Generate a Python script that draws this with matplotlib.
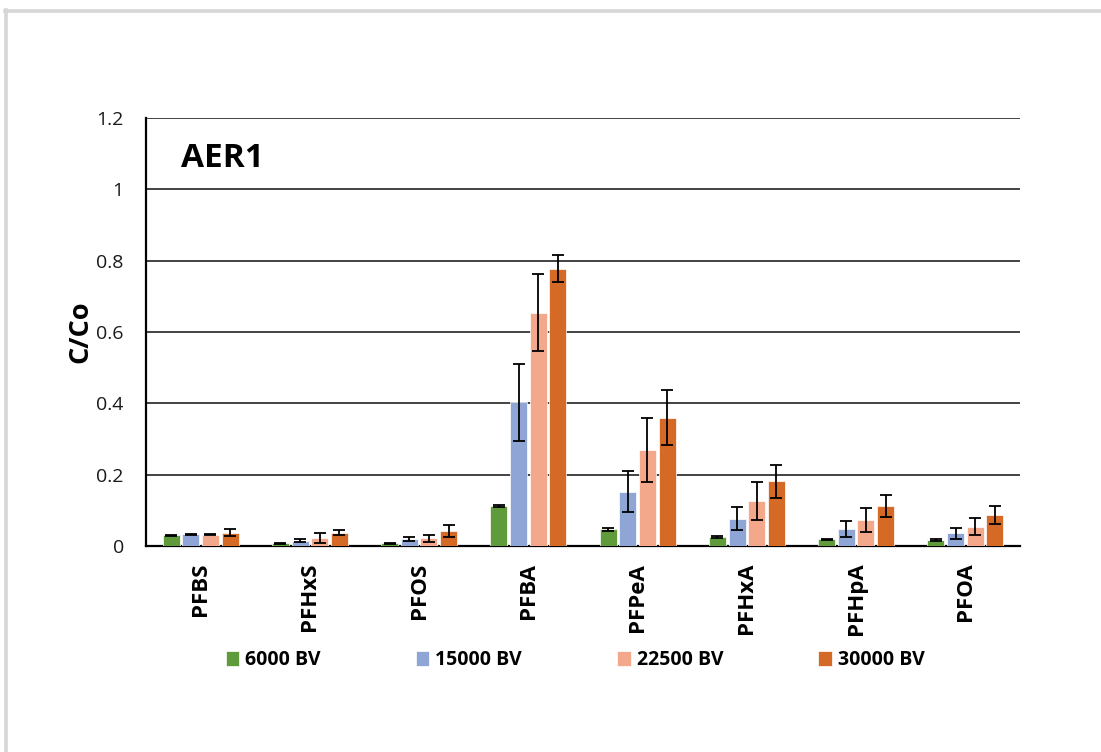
import matplotlib
matplotlib.use("Agg")
import matplotlib.pyplot as plt
from matplotlib.lines import Line2D
import numpy as np

plt.rcParams['font.family'] = ['Open Sans', 'DejaVu Sans']

# Compounds and bed-volume series
compounds = ["PFBS", "PFHxS", "PFOS", "PFBA", "PFPeA", "PFHxA", "PFHpA", "PFOA"]
series_names = ["6000 BV", "15000 BV", "22500 BV", "30000 BV"]
colors = ["#5F9B3B", "#8FA5D6", "#F3A78B", "#D46A26"]

# Mean C/Co per series
bv6000 = [0.030, 0.0075, 0.0075, 0.112, 0.047, 0.025, 0.019, 0.017]
bv15000 = [0.033, 0.015, 0.019, 0.403, 0.152, 0.077, 0.048, 0.036]
bv22500 = [0.032, 0.022, 0.022, 0.654, 0.269, 0.127, 0.073, 0.054]
bv30000 = [0.037, 0.037, 0.043, 0.778, 0.360, 0.181, 0.113, 0.087]

# Standard deviations
err6000 = [0.002, 0.002, 0.002, 0.004, 0.004, 0.002, 0.002, 0.002]
err15000 = [0.002, 0.005, 0.005, 0.108, 0.058, 0.033, 0.022, 0.015]
err22500 = [0.002, 0.014, 0.010, 0.108, 0.090, 0.053, 0.033, 0.024]
err30000 = [0.010, 0.0065, 0.017, 0.037, 0.077, 0.046, 0.031, 0.024]

values = [bv6000, bv15000, bv22500, bv30000]
errors = [err6000, err15000, err22500, err30000]

yticks = [0, 0.2, 0.4, 0.6, 0.8, 1.0, 1.2]
ytick_labels = ["0", "0.2", "0.4", "0.6", "0.8", "1", "1.2"]

fig = plt.figure(figsize=(11.01, 7.52), dpi=100)
ax = fig.add_axes([146 / 1101, 1 - 546 / 752, (1020 - 146) / 1101, (546 - 118) / 752])

x = np.arange(len(compounds))
step = 0.18
width = 0.155
offsets = (np.arange(4) - 1.5) * step

for i in range(4):
    ax.bar(x + offsets[i], values[i], width=width, color=colors[i],
           edgecolor="white", linewidth=0.5, label=series_names[i], zorder=3)
    ax.errorbar(x + offsets[i], values[i], yerr=errors[i], fmt="none",
                ecolor="black", elinewidth=1.3, capsize=4.5, capthick=1.3, zorder=4)

ax.set_xlim(-0.5, len(compounds) - 0.5)
ax.set_ylim(0, 1.2)
ax.set_yticks(yticks)
ax.set_yticklabels(ytick_labels, fontsize=14, color="#1a1a1a")
ax.yaxis.grid(True, color="#222222", linewidth=1.2, zorder=0)
ax.set_axisbelow(True)

ax.set_xticks(x)
ax.set_xticklabels(compounds, rotation=90, fontsize=16, fontweight="bold",
                   va="top", ha="center")
ax.tick_params(axis="x", length=0, pad=12)
ax.tick_params(axis="y", length=0, pad=16)

for side in ["top", "right"]:
    ax.spines[side].set_visible(False)
ax.spines["left"].set_linewidth(1.6)
ax.spines["bottom"].set_linewidth(1.6)
ax.spines["left"].set_color("black")
ax.spines["bottom"].set_color("black")

ax.set_ylabel("C/Co", fontsize=19.5, fontweight="bold", labelpad=2)

ax.text(0.04, 0.905, "AER1", transform=ax.transAxes, fontsize=24,
        fontweight="bold", ha="left", va="center")

leg = fig.legend(loc="center", bbox_to_anchor=(575 / 1101, 1 - 660 / 752),
                 ncol=4, frameon=False, prop={"weight": "bold", "size": 14},
                 handlelength=0.7, handleheight=0.85, handletextpad=0.3,
                 columnspacing=4.9)

# light frame around the panel
fig.add_artist(Line2D([6.5 / 1101, 6.5 / 1101], [0, 1 - 10 / 752],
                      transform=fig.transFigure, color="#D6D6D6", linewidth=2.6))
fig.add_artist(Line2D([5 / 1101, 1], [1 - 10.5 / 752, 1 - 10.5 / 752],
                      transform=fig.transFigure, color="#D6D6D6", linewidth=2.6))

fig.savefig("out.png", dpi=100)
